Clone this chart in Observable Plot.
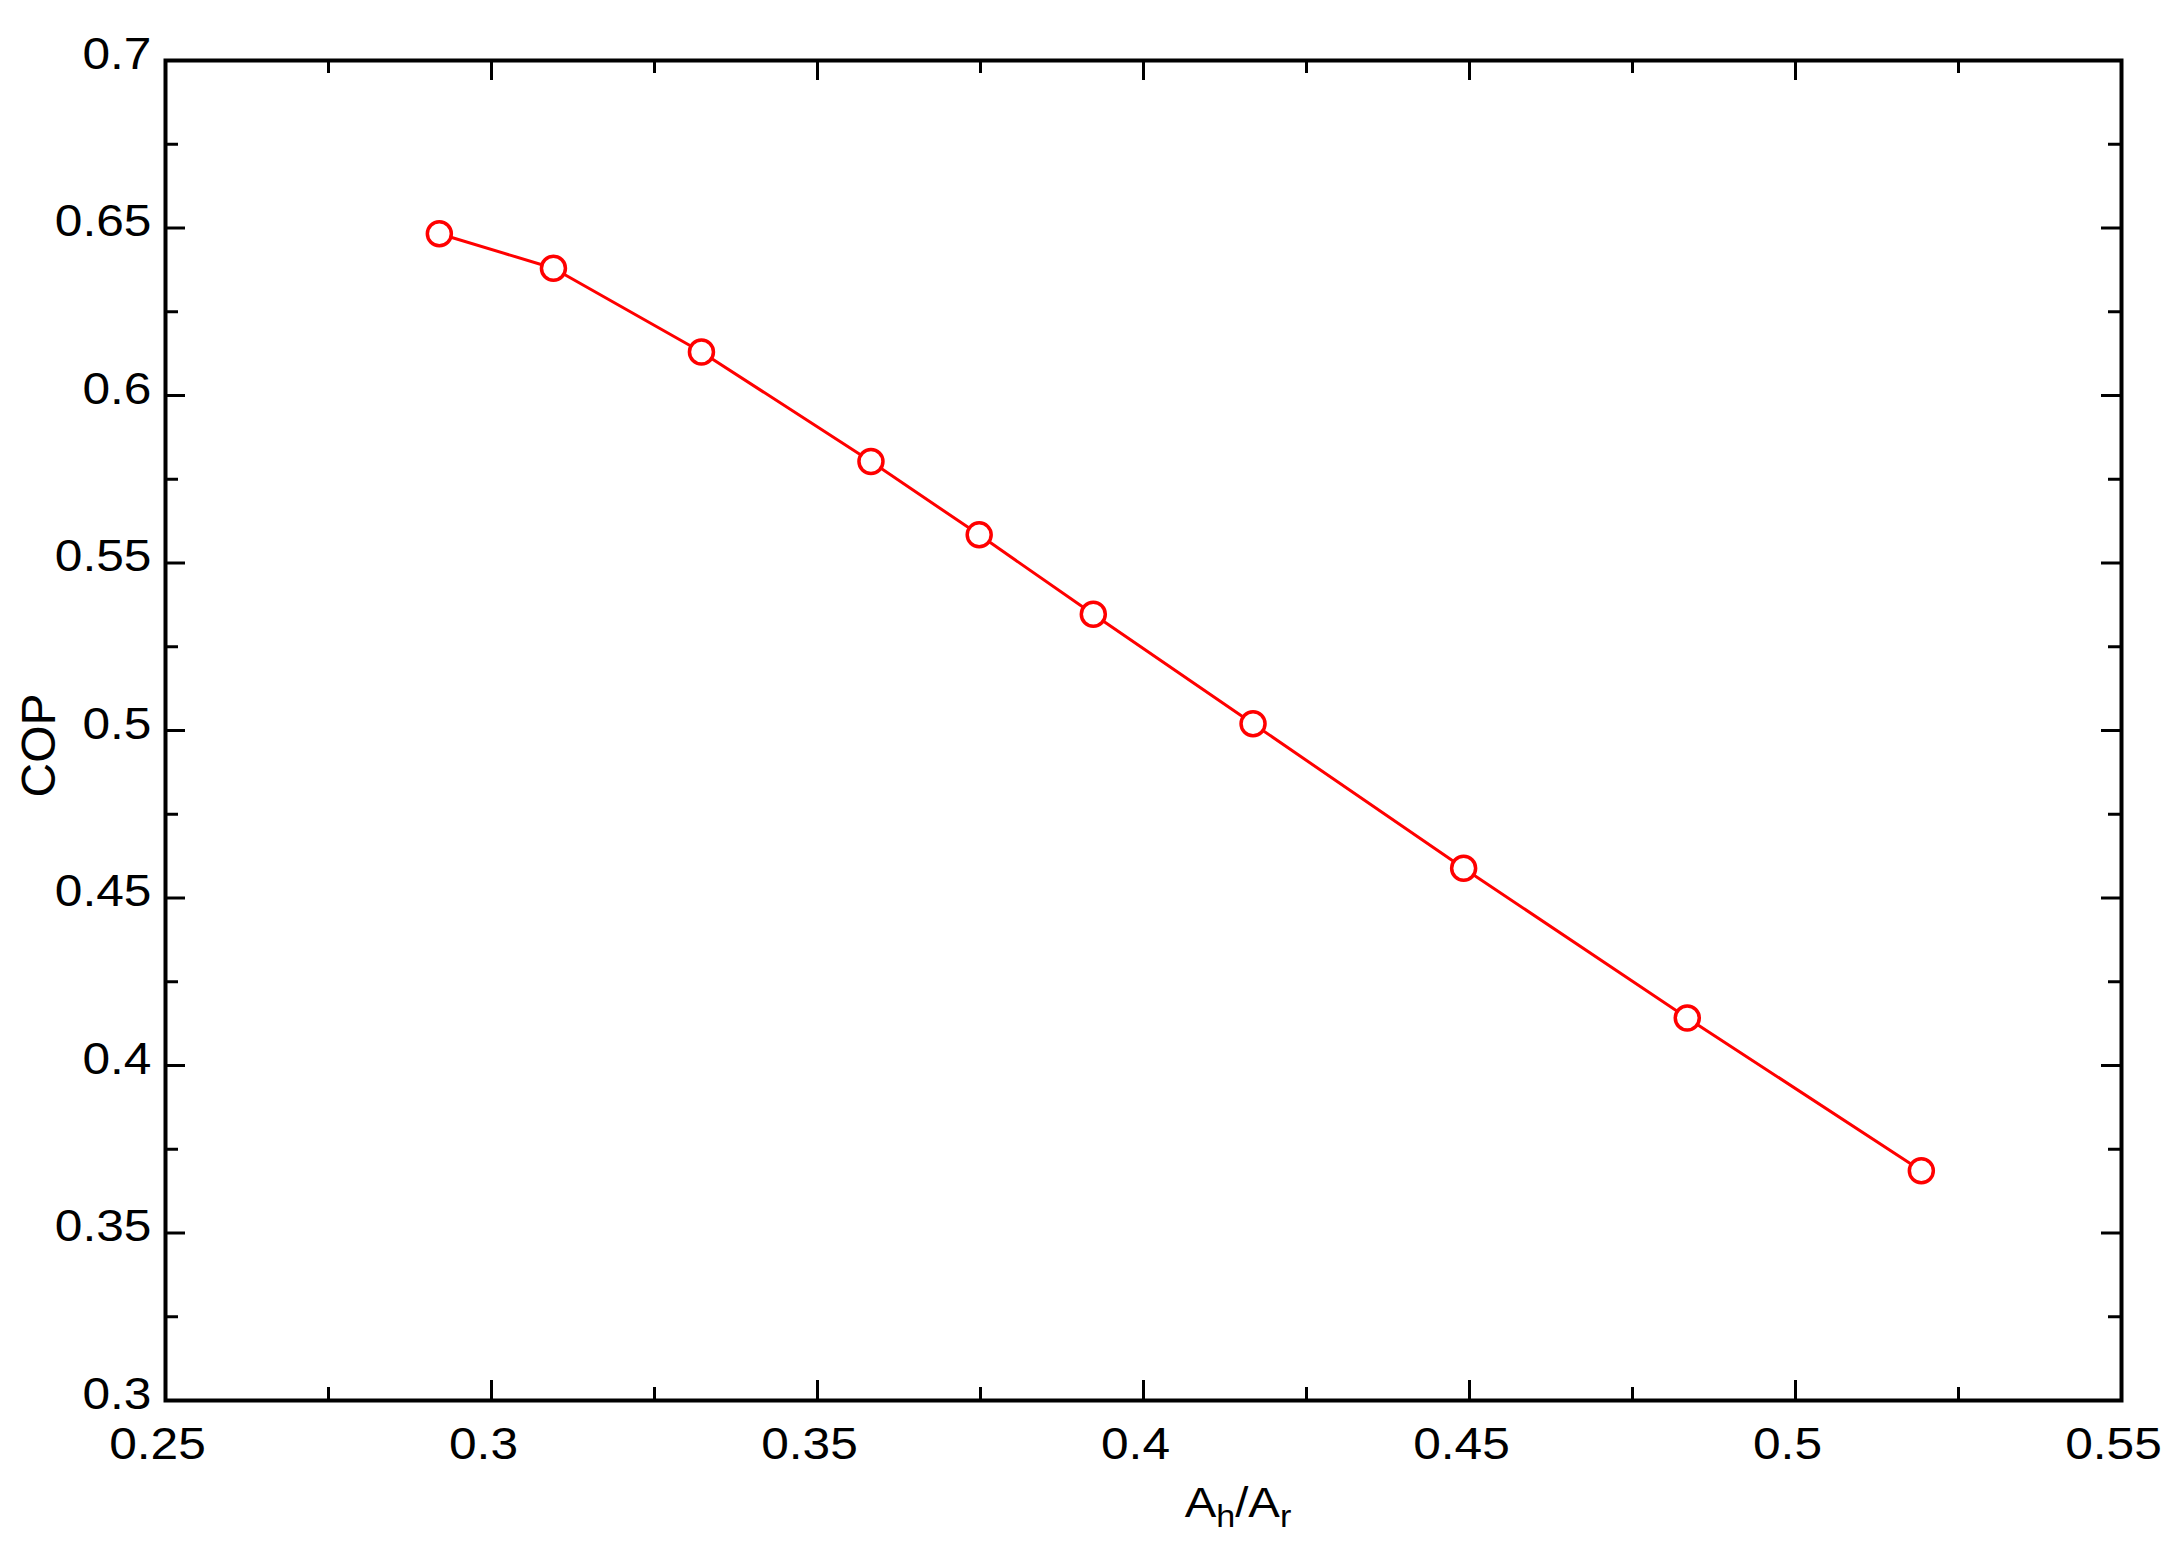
<!DOCTYPE html>
<html>
<head>
<meta charset="utf-8">
<script src="https://cdn.jsdelivr.net/npm/d3@7"></script>
<script src="https://cdn.jsdelivr.net/npm/@observablehq/plot@0.6"></script>
<style>
  html, body { margin: 0; padding: 0; background: #fff; }
  #chart svg { display: block; }
</style>
</head>
<body>
<div id="chart"></div>
<script>
// Data
const areaRatio = [0.292, 0.3095, 0.3322, 0.3582, 0.3748, 0.3923, 0.4168, 0.4491, 0.4834, 0.5193];
const cop       = [0.6483, 0.6380, 0.6130, 0.5803, 0.5584, 0.5347, 0.5020, 0.4589, 0.4142, 0.3686];

const xTicks = [0.25, 0.3, 0.35, 0.4, 0.45, 0.5, 0.55];
const xMinor = [0.275, 0.325, 0.375, 0.425, 0.475, 0.525];
const yTicks = [0.3, 0.35, 0.4, 0.45, 0.5, 0.55, 0.6, 0.65, 0.7];
const yMinor = [0.325, 0.375, 0.425, 0.475, 0.525, 0.575, 0.625, 0.675];

const yLabel = "COP";

const data = areaRatio.map((x, i) => ({x, y: cop[i]}));

const W = 2177, H = 1555;
const mL = 165, mR = 56, mT = 60, mB = 155;
const fw = W - mL - mR, fh = H - mT - mB;
const major = 20, minor = 13;
const font = "'Liberation Sans', Arial, sans-serif";

const chart = Plot.plot({
  width: W,
  height: H,
  marginLeft: mL,
  marginRight: mR,
  marginTop: mT,
  marginBottom: mB,
  style: {fontFamily: font, background: "#fff", color: "#000"},
  x: {domain: [0.25, 0.55], nice: false},
  y: {domain: [0.3, 0.7], nice: false},
  marks: [
    Plot.axisX({ticks: xTicks, tickSize: 0, tickPadding: 27, tickFormat: d => String(d), fontSize: 44, label: null, dx: -8}),
    Plot.axisY({ticks: yTicks, tickSize: 0, tickPadding: 14, tickFormat: d => String(d), fontSize: 44, label: null, dy: -6}),
    // inward ticks on all four sides
    Plot.tickX(xTicks, {x: d => d, insetTop: fh - major, stroke: "#000", strokeWidth: 3}),
    Plot.tickX(xMinor, {x: d => d, insetTop: fh - minor, stroke: "#000", strokeWidth: 3}),
    Plot.tickX(xTicks, {x: d => d, insetBottom: fh - major, stroke: "#000", strokeWidth: 3}),
    Plot.tickX(xMinor, {x: d => d, insetBottom: fh - minor, stroke: "#000", strokeWidth: 3}),
    Plot.tickY(yTicks, {y: d => d, insetRight: fw - major, stroke: "#000", strokeWidth: 3}),
    Plot.tickY(yMinor, {y: d => d, insetRight: fw - minor, stroke: "#000", strokeWidth: 3}),
    Plot.tickY(yTicks, {y: d => d, insetLeft: fw - major, stroke: "#000", strokeWidth: 3}),
    Plot.tickY(yMinor, {y: d => d, insetLeft: fw - minor, stroke: "#000", strokeWidth: 3}),
    Plot.frame({stroke: "#000", strokeWidth: 4}),
    Plot.line(data, {x: "x", y: "y", stroke: "#ff0000", strokeWidth: 3}),
    Plot.dot(data, {x: "x", y: "y", r: 12, stroke: "#ff0000", strokeWidth: 3.5, fill: "#fff"}),
    Plot.text([yLabel], {frameAnchor: "left", textAnchor: "middle", rotate: -90, dx: -126, dy: 15, fontSize: 48, fill: "#000", lineAnchor: "middle"})
  ]
});

const svg = d3.select(chart);

// The reference's tick labels are horizontally stretched: widen them around their anchor
svg.selectAll("g[aria-label='x-axis tick label'] text, g[aria-label='y-axis tick label'] text").each(function() {
  const t = this.getAttribute("transform");
  if (t) {
    this.setAttribute("transform", t + " scale(1.13,1)");
  } else {
    const x = +this.getAttribute("x") || 0, y = +this.getAttribute("y") || 0;
    this.removeAttribute("x"); this.removeAttribute("y");
    this.setAttribute("transform", `translate(${x},${y}) scale(1.13,1)`);
  }
});

// x-axis label with subscripts (A_h / A_r)
const xl = svg.append("text")
  .attr("transform", `translate(1238,1517) scale(1.1,1)`)
  .attr("text-anchor", "middle")
  .attr("font-family", font)
  .attr("font-size", 43)
  .attr("fill", "#000");
xl.append("tspan").text("A");
xl.append("tspan").attr("font-size", 31).attr("dy", 10).text("h");
xl.append("tspan").attr("dy", -10).text("/A");
xl.append("tspan").attr("font-size", 31).attr("dy", 10).text("r");

document.getElementById("chart").appendChild(chart);
</script>
</body>
</html>
